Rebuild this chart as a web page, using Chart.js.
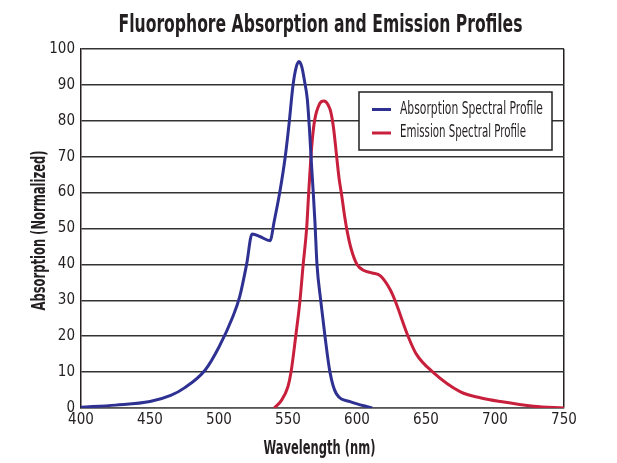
<!DOCTYPE html>
<html>
<head>
<meta charset="utf-8">
<script src="https://cdn.jsdelivr.net/npm/chart.js@4.4.1/dist/chart.umd.min.js"></script>
<style>
  html, body { margin: 0; padding: 0; background: #fff; }
  #wrap { width: 617px; height: 463px; }
</style>
</head>
<body>
<div id="wrap"><canvas id="spectra"></canvas></div>
<script>
// values
const absWavelength = [400, 425, 450, 465, 475, 490, 500, 510, 515, 520, 524, 530, 537, 540, 544, 548, 551, 553.5, 556, 558, 560, 562, 564, 565.5, 567, 568.3, 569.5, 571, 573.7, 576.8, 580.4, 585, 595, 611];
const absValues = [0.2, 0.8, 1.8, 3.5, 5.6, 10.6, 17, 25.4, 31, 40, 48.5, 47.7, 46.6, 52, 60, 70, 80, 89.5, 95, 96.5, 95, 91, 86, 78, 68, 60, 52, 40, 30, 20, 10, 4, 1.8, 0];

const emWavelength = [540, 545, 550, 552.2, 555.6, 558.7, 561, 563.5, 565, 567, 568.5, 570, 572, 574, 576, 579, 581, 583, 585, 587, 589, 591, 593, 596, 600, 605, 611, 617, 624, 627.5, 637, 643, 655, 675, 690, 704, 728, 750];
const emValues = [0, 2, 6, 10, 20, 30, 40, 50, 60, 72, 78, 81.5, 84, 85.3, 85.5, 84.5, 82.5, 78, 71, 64, 59, 53.5, 49, 44, 40, 38.3, 37.6, 36.8, 33, 30, 20, 15, 10, 4.5, 2.8, 1.8, 0.5, 0];

const xTicks = [400, 450, 500, 550, 600, 650, 700, 750];
const yTicks = [0, 10, 20, 30, 40, 50, 60, 70, 80, 90, 100];

const seriesNames = ['Absorption Spectral Profile', 'Emission Spectral Profile'];
const seriesColors = ['#2e3192', '#c8203c'];

const chartTitle = 'Fluorophore Absorption and Emission Profiles';
const xTitle = 'Wavelength (nm)';
const yTitle = 'Absorption (Normalized)';

const narrow = "'DejaVu Sans Condensed', 'Liberation Sans Narrow', sans-serif";
const ink = '#231f20';

function toPoints(xs, ys) {
    return xs.map((x, i) => ({ x: x, y: ys[i] }));
}

// draws text squeezed sideways to a given width (the original uses a condensed face)
function narrowText(ctx, text, cx, cy, width, font, angle) {
    ctx.save();
    ctx.font = font;
    ctx.textAlign = 'center';
    ctx.textBaseline = 'middle';
    ctx.fillStyle = ink;
    const sx = width / ctx.measureText(text).width;
    ctx.translate(cx, cy);
    ctx.rotate(angle || 0);
    ctx.scale(sx, 1);
    ctx.fillText(text, 0, 0);
    ctx.restore();
}

const titles = {
    id: 'titles',
    afterDraw(chart) {
        const ctx = chart.ctx;
        const area = chart.chartArea;
        const mid = (area.left + area.right) / 2;
        narrowText(ctx, chartTitle, mid - 2, 25, 404, 'bold 25px ' + narrow);
        narrowText(ctx, xTitle, mid - 3, 449, 112, 'bold 19px ' + narrow);
        narrowText(ctx, yTitle, 40, (area.top + area.bottom) / 2 + 2, 160, 'bold 19px ' + narrow, -Math.PI / 2);
    }
};

// legend drawn as a white box inside the plot, like the original
const boxLegend = {
    id: 'boxLegend',
    afterDraw(chart) {
        const ctx = chart.ctx;
        const area = chart.chartArea;
        const left = area.right - 205;
        const top = area.top + 43;
        const w = 193, h = 58;
        ctx.save();
        ctx.fillStyle = '#fff';
        ctx.fillRect(left, top, w, h);
        ctx.strokeStyle = ink;
        ctx.lineWidth = 1.5;
        ctx.strokeRect(left, top, w, h);
        ctx.restore();
        const widths = [143, 126];
        chart.data.datasets.forEach((ds, i) => {
            const y = top + 17.5 + i * 23.5;
            ctx.save();
            ctx.strokeStyle = ds.borderColor;
            ctx.lineWidth = 3;
            ctx.beginPath();
            ctx.moveTo(left + 13, y);
            ctx.lineTo(left + 32, y);
            ctx.stroke();
            ctx.restore();
            narrowText(ctx, ds.label, left + 41 + widths[i] / 2, y, widths[i], '17px ' + narrow);
        });
    }
};

const spectraChart = new Chart(document.getElementById('spectra').getContext('2d'), {
    type: 'line',
    data: {
        datasets: [{
            label: seriesNames[0],
            data: toPoints(absWavelength, absValues),
            borderColor: seriesColors[0],
            borderWidth: 3,
            pointRadius: 0,
            cubicInterpolationMode: 'monotone'
        }, {
            label: seriesNames[1],
            data: toPoints(emWavelength, emValues),
            borderColor: seriesColors[1],
            borderWidth: 3,
            pointRadius: 0,
            cubicInterpolationMode: 'monotone'
        }]
    },
    options: {
        responsive: true,
        maintainAspectRatio: false,
        animation: false,
        layout: { padding: { left: 0, right: 53, top: 49, bottom: 0 } },
        plugins: {
            legend: { display: false },
            tooltip: { enabled: false },
            title: { display: false }
        },
        scales: {
            x: {
                type: 'linear',
                min: 400,
                max: 750,
                afterBuildTicks: s => { s.ticks = xTicks.map(v => ({ value: v })); },
                afterFit: s => { s.height = 55; },
                ticks: {
                    color: ink,
                    padding: 3,
                    maxRotation: 0,
                    font: { family: narrow, size: 15 }
                },
                grid: {
                    drawTicks: false,
                    lineWidth: 1.5,
                    color: c => (c.tick && c.tick.value === 750) ? ink : 'transparent'
                },
                border: { display: true, color: '#555', width: 1.5 }
            },
            y: {
                min: 0,
                max: 100,
                afterBuildTicks: s => { s.ticks = yTicks.map(v => ({ value: v })); },
                afterFit: s => { s.width = 81; },
                ticks: {
                    color: ink,
                    padding: 6,
                    font: { family: narrow, size: 15 }
                },
                grid: {
                    drawTicks: false,
                    lineWidth: 1.5,
                    color: '#333'
                },
                border: { display: true, color: ink, width: 1.5 }
            }
        }
    },
    plugins: [titles, boxLegend]
});
</script>
</body>
</html>
